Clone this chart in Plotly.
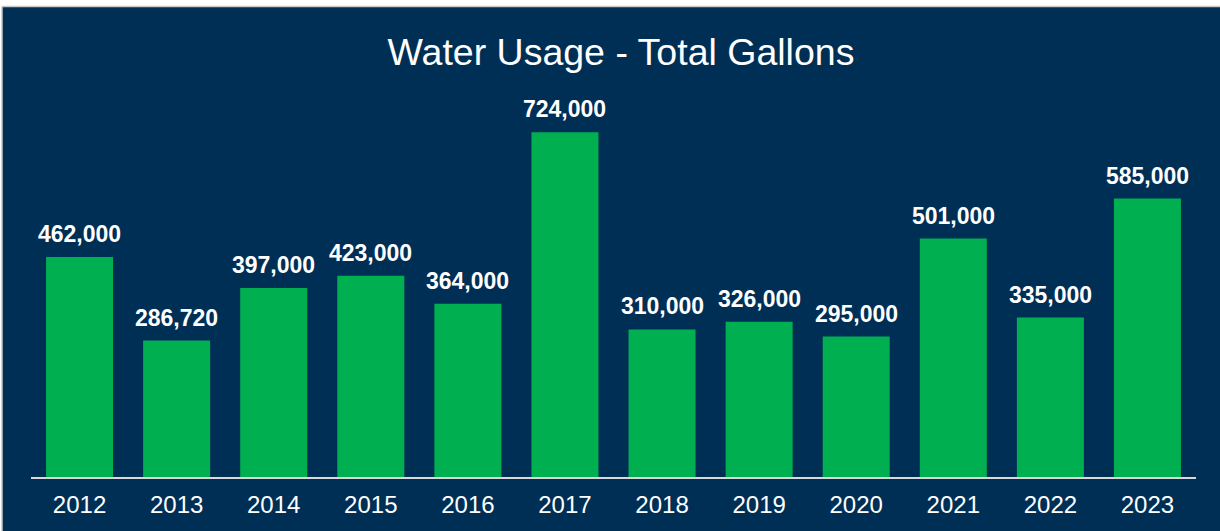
import plotly.graph_objects as go

years = ["2012", "2013", "2014", "2015", "2016", "2017", "2018", "2019", "2020", "2021", "2022", "2023"]
gallons = [462000, 286720, 397000, 423000, 364000, 724000, 310000, 326000, 295000, 501000, 335000, 585000]
labels = [f"{v:,}" for v in gallons]

NAVY = "#002F56"
GREEN = "#00B050"
W, H = 1220, 531

fig = go.Figure()
fig.add_trace(go.Bar(
    x=years, y=gallons,
    marker=dict(color=GREEN, line=dict(width=0)),
    hoverinfo="x+y",
))

# category axis: annotations are placed by category index
annotations = [
    dict(x=i, y=v, text=f"<b>{lab}</b>", showarrow=False, xref="x", yref="y",
         yanchor="bottom", yshift=8, font=dict(family="Liberation Sans, Arial", size=23, color="white"))
    for i, (v, lab) in enumerate(zip(gallons, labels))
]

fig.update_layout(
    width=W, height=H,
    margin=dict(l=31, r=24, t=100, b=54, autoexpand=False),
    paper_bgcolor=NAVY, plot_bgcolor=NAVY,
    bargap=0.31,
    showlegend=False,
    title=dict(text="Water Usage - Total Gallons", x=0.509, xanchor="center",
               y=1 - 52 / H, yanchor="middle", yref="container",
               font=dict(family="Liberation Sans, Arial", size=37.5, color="white")),
    xaxis=dict(type="category", showgrid=False, showline=True, linecolor="#D9D9D9", linewidth=2,
               ticks="", tickfont=dict(family="Liberation Sans, Arial", size=24, color="white"),
               ticklabelstandoff=5, fixedrange=True),
    yaxis=dict(visible=False, range=[0, 792000], showgrid=False, zeroline=False, fixedrange=True),
    annotations=annotations,
    shapes=[
        dict(type="rect", xref="paper", yref="paper", x0=-1, x1=2, y0=1 + 94 / 377, y1=2,
             fillcolor="white", line=dict(width=0), layer="above"),
        dict(type="rect", xref="paper", yref="paper", x0=-1, x1=-29 / 1165, y0=-1, y1=2,
             fillcolor="white", line=dict(width=0), layer="above"),
        dict(type="line", xref="paper", yref="paper", x0=-29 / 1165, x1=2, y0=1 + 93.5 / 377, y1=1 + 93.5 / 377,
             line=dict(color="#C8C8C8", width=1.5), layer="above"),
        dict(type="line", xref="paper", yref="paper", x0=-29 / 1165, x1=-29 / 1165, y0=-1, y1=1 + 93.5 / 377,
             line=dict(color="#C8C8C8", width=1.5), layer="above"),
    ],
)

fig.write_html("out.html", config={"displayModeBar": False},
               post_script="document.body.style.margin='0';document.body.style.overflow='hidden';")
